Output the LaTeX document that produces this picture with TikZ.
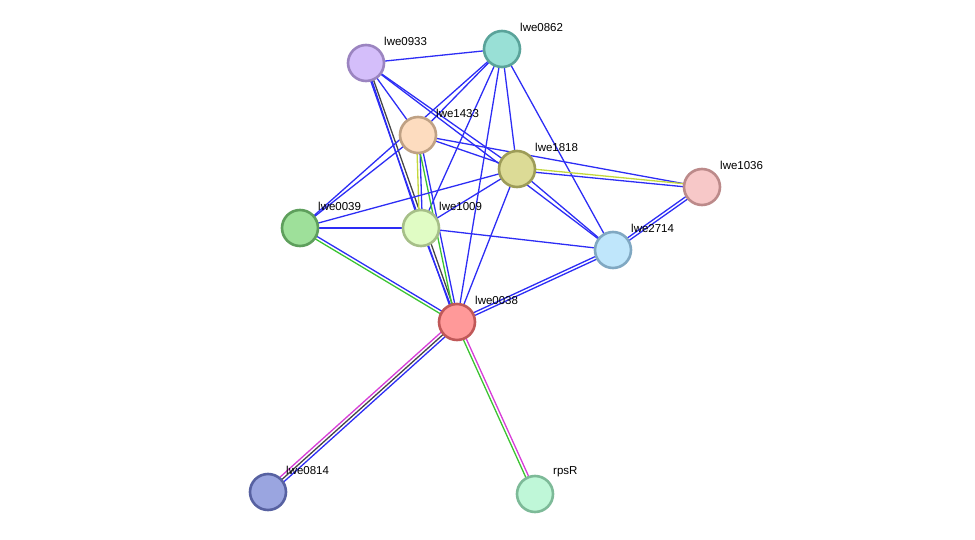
\documentclass[tikz,border=0pt]{standalone}
\usepackage{fontspec}
\setmainfont{Liberation Sans}
\usetikzlibrary{calc}
\pgfdeclarelayer{background}
\pgfsetlayers{background,main}
\definecolor{blu}{RGB}{45,45,245}
\definecolor{grn}{RGB}{60,195,50}
\definecolor{yel}{RGB}{195,215,60}
\definecolor{mag}{RGB}{215,60,215}
\definecolor{gry}{RGB}{70,70,70}
\tikzset{
  prot/.style={circle, minimum size=36pt, inner sep=0pt, line width=2.6pt},
  lab/.style={anchor=west, font=\fontsize{11.5pt}{12pt}\selectfont, inner sep=0pt},
  edge/.style={line width=1.3pt},
}
\newcommand\edg[3]{%
  \foreach \c/\o in {#3}{%
    \draw[edge,\c] ($(#1)!\o pt!90:(#2)$) -- ($(#2)!\o pt!-90:(#1)$);
  }}
\newcommand\protnode[5]{% name, x, y, fill, border
  \node[prot, fill=#4, draw=#5] (#1) at (#2,#3) {};}
\begin{document}
\begin{tikzpicture}[x=1pt,y=-1pt]
\useasboundingbox (0,0) rectangle (975,540);
\definecolor{f0933}{HTML}{D4BEFA}\definecolor{b0933}{HTML}{9B84C0}
\definecolor{f0862}{HTML}{99E0D6}\definecolor{b0862}{HTML}{5AA39A}
\definecolor{f1433}{HTML}{FDDCBF}\definecolor{b1433}{HTML}{BFA184}
\definecolor{f1818}{HTML}{DCDB96}\definecolor{b1818}{HTML}{9D9C58}
\definecolor{f1036}{HTML}{F7C8C8}\definecolor{b1036}{HTML}{BC8A8A}
\definecolor{f0039}{HTML}{9EE09A}\definecolor{b0039}{HTML}{5E9F5C}
\definecolor{f1009}{HTML}{E0FCC4}\definecolor{b1009}{HTML}{A6BF88}
\definecolor{f2714}{HTML}{BFE6FB}\definecolor{b2714}{HTML}{80A8C2}
\definecolor{f0038}{HTML}{FF9999}\definecolor{b0038}{HTML}{C05858}
\definecolor{f0814}{HTML}{9AA5E0}\definecolor{b0814}{HTML}{5761A1}
\definecolor{frpsR}{HTML}{BFF7D8}\definecolor{brpsR}{HTML}{7DBA98}
\protnode{n0933}{366}{63}{f0933}{b0933}
\protnode{n0862}{502}{49}{f0862}{b0862}
\protnode{n1433}{418}{135}{f1433}{b1433}
\protnode{n1818}{517}{169}{f1818}{b1818}
\protnode{n1036}{702}{187}{f1036}{b1036}
\protnode{n0039}{300}{228}{f0039}{b0039}
\protnode{n1009}{421}{228}{f1009}{b1009}
\protnode{n2714}{613}{250}{f2714}{b2714}
\protnode{n0038}{457}{322}{f0038}{b0038}
\protnode{n0814}{268}{492}{f0814}{b0814}
\protnode{nrpsR}{535}{494}{frpsR}{brpsR}
\foreach \n/\t in {n0933/lwe0933,n0862/lwe0862,n1433/lwe1433,n1818/lwe1818,n1036/lwe1036,n0039/lwe0039,n1009/lwe1009,n2714/lwe2714,n0038/lwe0038,n0814/lwe0814,nrpsR/rpsR}
  \node[lab] (l\n) at ($(\n)+(18,-22)$) {\t};
\begin{pgfonlayer}{background}
\edg{n0933}{n0862}{blu/0}
\edg{n0933}{n1433}{blu/0}
\edg{n0933}{n1818}{blu/0}
\edg{n0933}{n2714}{blu/0}
\edg{n0933}{n1009}{blu/0}
\edg{n0933}{n0038}{blu/-1.5,gry/1.5}
\edg{n0862}{n1433}{blu/0}
\edg{n0862}{n0039}{blu/0}
\edg{n0862}{n1009}{blu/0}
\edg{n0862}{n1818}{blu/0}
\edg{n0862}{n0038}{blu/0}
\edg{n0862}{n2714}{blu/0}
\edg{n1433}{n1818}{blu/0}
\edg{n1433}{n1036}{blu/0}
\edg{n1433}{n0039}{blu/0}
\edg{n1433}{n1009}{yel/-1.5,blu/1.5}
\edg{n1433}{n0038}{grn/-1.5,blu/1.5}
\edg{n1818}{n0039}{blu/0}
\edg{n1818}{n1009}{blu/0}
\edg{n1818}{n0038}{blu/0}
\edg{n1818}{n2714}{blu/0}
\edg{n1818}{n1036}{yel/1.5,blu/-1.5}
\edg{n0039}{n1009}{blu/0}
\edg{n0039}{n0038}{grn/-1.5,blu/1.5}
\edg{n1009}{n0038}{blu/0}
\edg{n1009}{n2714}{blu/0}
\edg{n2714}{n0038}{blu/-1.5,blu/1.5}
\edg{n2714}{n1036}{blu/-1.5,blu/1.5}
\edg{n0038}{n0814}{mag/-3,gry/0,blu/3}
\edg{n0038}{nrpsR}{grn/-1.5,mag/1.5}
\end{pgfonlayer}
\end{tikzpicture}
\end{document}
